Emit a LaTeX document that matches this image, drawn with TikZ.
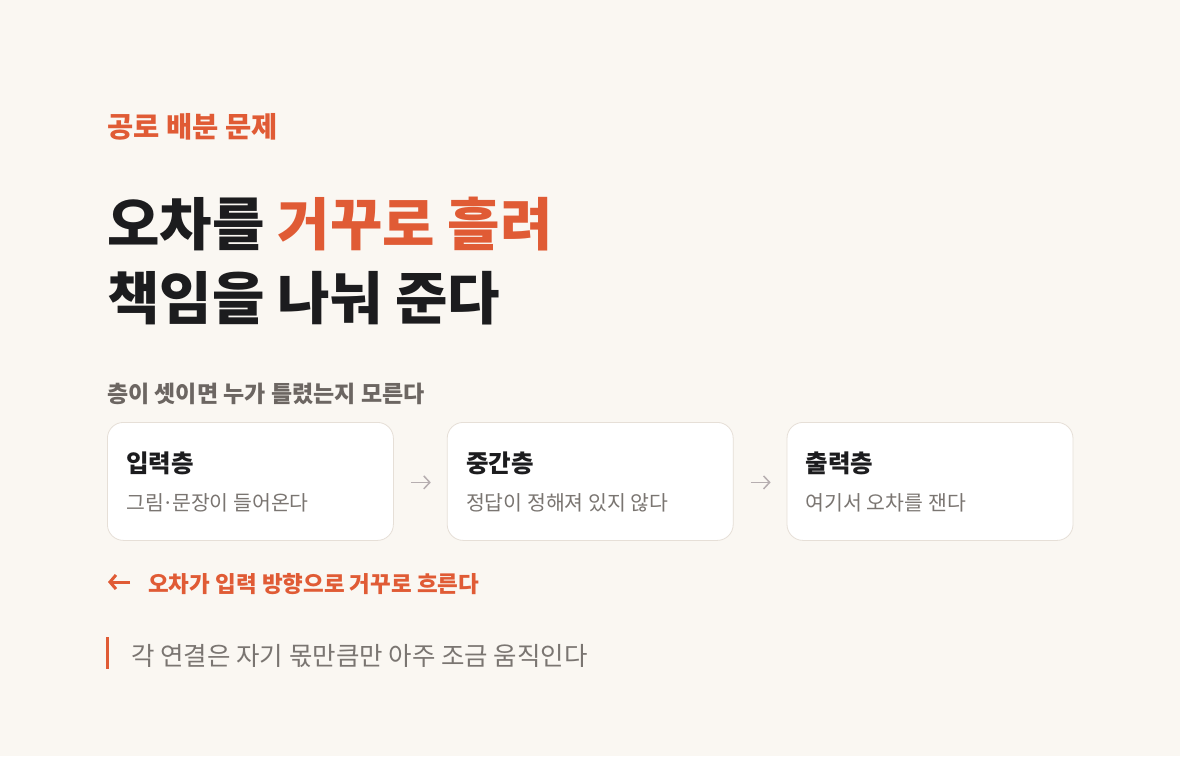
\documentclass[tikz,border=0pt]{standalone}
\usepackage{fontspec}
\setmainfont{Noto Sans CJK KR}
\newfontfamily\headfont{Noto Sans CJK KR}
\usepackage{tikz}
\usetikzlibrary{calc}
\usetikzlibrary{arrows.meta,positioning}
\usepackage{xcolor}
\definecolor{paper}{HTML}{FAF7F2}
\definecolor{accent}{HTML}{E05B35}
\definecolor{ink}{HTML}{1C1C1E}
\definecolor{lead}{HTML}{6C6662}
\definecolor{muted}{HTML}{7A7571}
\definecolor{cardline}{HTML}{E6DFD7}
\definecolor{arrowgray}{HTML}{B6AEB0}
\newcommand{\sz}[1]{\fontsize{#1}{#1}\selectfont}
\newcommand{\mdot}{\kern-.08em·\kern-.08em}

\begin{document}
\begin{tikzpicture}[x=1pt,y=1pt,
    txt/.style={anchor=base west,inner sep=0pt},
    card/.style={draw=cardline,fill=white,line width=0.8pt,rounded corners=16pt,
      minimum width=286pt,minimum height=118pt,inner sep=0pt},
    cardtitle/.style={txt,font=\sz{24.5}\bfseries,text=ink},
    cardtext/.style={txt,font=\sz{20.5},text=muted},
    flow/.style={draw=arrowgray,line width=1.5pt,-{Straight Barb[length=6pt,width=13pt]}},
    backflow/.style={draw=accent,line width=3pt,-{Straight Barb[length=6pt,width=14pt]}}]
        \fill[paper] (0,0) rectangle (1180,-756);
        \useasboundingbox (0,0) rectangle (1180,-756);
        \node[txt,font=\sz{28.5}\bfseries,text=accent] (kicker) at (107,-137) {공로 배분 문제};
        \node[txt,font=\headfont\sz{57}\bfseries,text=ink] (head1) at (107,-245)
          {오차를 \textcolor{accent}{거꾸로 흘려}};
        \node[txt,font=\headfont\sz{57}\bfseries,text=ink] (head2) at (107,-319) {책임을 나눠 준다};
        \node[txt,font=\sz{23}\bfseries,text=lead] (why) at (107,-402) {층이 셋이면 누가 틀렸는지 모른다};
        \node[card,anchor=north west] (in) at (107,-422) {};
        \node[card,right=53pt of in] (mid) {};
        \node[card,right=53pt of mid] (out) {};
        \node[cardtitle] (in-t) at ($(in.north west)+(19,-50)$) {입력층};
        \node[cardtext] (in-s) at ($(in.north west)+(19,-88)$) {그림\mdot 문장이 들어온다};
        \node[cardtitle] (mid-t) at ($(mid.north west)+(19,-50)$) {중간층};
        \node[cardtext] (mid-s) at ($(mid.north west)+(19,-88)$) {정답이 정해져 있지 않다};
        \node[cardtitle] (out-t) at ($(out.north west)+(19,-50)$) {출력층};
        \node[cardtext] (out-s) at ($(out.north west)+(19,-88)$) {여기서 오차를 잰다};
        \draw[flow] ([xshift=17pt,yshift=-1pt]in.east) -- ([xshift=-16pt,yshift=-1pt]mid.west);
        \draw[flow] ([xshift=17pt,yshift=-1pt]mid.east) -- ([xshift=-16pt,yshift=-1pt]out.west);
        \coordinate (back-s) at (130,-582);
        \coordinate (back-e) at (108,-582);
        \draw[backflow] (back-s) -- (back-e);
        \node[txt,font=\sz{22.5}\bfseries,text=accent] (back) at (148,-592) {오차가 입력 방향으로 거꾸로 흐른다};
        \fill[accent] (106,-637) rectangle (109,-669);
        \node[txt,font=\sz{25.5},text=muted] (note) at (131,-665) {각 연결은 자기 몫만큼만 아주 조금 움직인다};
      \end{tikzpicture}
\end{document}
